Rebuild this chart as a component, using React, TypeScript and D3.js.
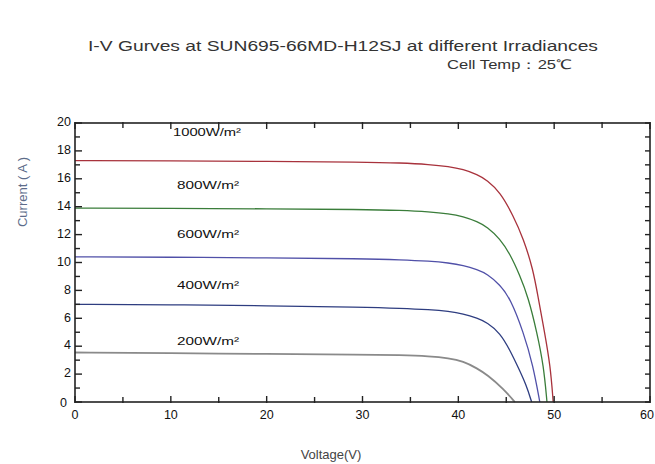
import React from "react";
import * as d3 from "d3";

const title = "I-V Gurves at SUN695-66MD-H12SJ at different Irradiances";
const subtitle = "Cell Temp：25℃";
const xLabel = "Voltage(V)";
const yLabel = "Current ( A )";
const xTicks = [0, 10, 20, 30, 40, 50, 60];
const yTicks = [0, 2, 4, 6, 8, 10, 12, 14, 16, 18, 20];

const seriesNames = ["1000W/m²", "800W/m²", "600W/m²", "400W/m²", "200W/m²"];
const seriesColors = ["#a8323c", "#3a7d3a", "#5050a8", "#2e3d80", "#8a8a8a"];
const labelCurrents = [19.3, 15.5, 12.0, 8.3, 4.3];

const v1000 = [0, 10, 20, 30, 34, 37, 39, 40.5, 42, 43, 44.35, 45.7, 46.8, 47.8, 48.3, 49, 49.6, 49.9];
const i1000 = [17.3, 17.28, 17.25, 17.2, 17.14, 17.03, 16.88, 16.68, 16.3, 15.9, 15.05, 13.4, 11.7, 9.5, 7.6, 5.0, 2.6, 0];

const v800 = [0, 10, 20, 30, 34, 37, 39, 40.5, 42, 43, 44.35, 45.4, 46.4, 47.3, 48.2, 48.9, 49.25];
const i800 = [13.9, 13.88, 13.85, 13.8, 13.74, 13.64, 13.5, 13.3, 12.93, 12.55, 11.7, 10.6, 9.1, 7.5, 5.0, 2.6, 0];

const v600 = [0, 10, 20, 30, 34, 37, 39, 40.5, 42, 43, 44.35, 45.4, 46.8, 47.8, 48.5];
const i600 = [10.4, 10.38, 10.33, 10.27, 10.2, 10.1, 9.97, 9.8, 9.48, 9.18, 8.4, 7.45, 5.0, 2.6, 0];

const v400 = [0, 10, 20, 30, 34, 37, 39, 40.5, 42, 43, 44.35, 45.4, 46.3, 47.1, 47.65];
const i400 = [7.0, 6.97, 6.9, 6.8, 6.72, 6.62, 6.5, 6.33, 6.0, 5.7, 4.95, 3.7, 2.4, 1.2, 0];

const v200 = [0, 10, 20, 30, 34, 37, 39, 40.5, 42, 43, 44.7, 45.9];
const i200 = [3.55, 3.5, 3.45, 3.4, 3.36, 3.28, 3.14, 2.92, 2.4, 1.95, 0.95, 0];

const seriesV = [v1000, v800, v600, v400, v200];
const seriesI = [i1000, i800, i600, i400, i200];

const W = 655;
const H = 464;
const M = { left: 75, right: 650, top: 123, bottom: 402 };

export default function App() {
  const x = d3.scaleLinear().domain([0, 60]).range([M.left, M.right]);
  const y = d3.scaleLinear().domain([0, 20]).range([M.bottom, M.top]);
  const line = d3
    .line<[number, number]>()
    .x((d) => x(d[0]))
    .y((d) => y(d[1]))
    .curve(d3.curveBasis);

  const xMinor = d3.range(0, 61, 5);
  const yMinor = d3.range(0, 21, 1);
  const font = "'Liberation Sans', Arial, sans-serif";

  return (
    <svg
      width={W}
      height={H}
      style={{ position: "absolute", left: 0, top: 0, background: "#fff" }}
      fontFamily={font}
    >
      <rect x={0} y={0} width={W} height={H} fill="#fff" />
      <text x={343} y={51} textAnchor="middle" fontSize={15.5} fill="#333" textLength={510} lengthAdjust="spacingAndGlyphs">
        {title}
      </text>
      <text x={447} y={69} fontSize={12.5} fill="#333" textLength={125} lengthAdjust="spacingAndGlyphs">
        {subtitle}
      </text>

      {seriesV.map((vs, k) => {
        const pts = vs.map((v, j) => [v, seriesI[k][j]] as [number, number]);
        return (
          <path
            key={k}
            d={line(pts) || ""}
            fill="none"
            stroke={seriesColors[k]}
            strokeWidth={k === 4 ? 1.8 : 1.3}
          />
        );
      })}

      {seriesNames.map((n, k) => (
        <text
          key={n}
          x={k === 0 ? 173 : 177}
          y={y(labelCurrents[k])}
          fontSize={11}
          dominantBaseline="middle"
          fill="#111"
          textLength={k === 0 ? 68 : 62}
          lengthAdjust="spacingAndGlyphs"
        >
          {n}
        </text>
      ))}

      <rect
        x={M.left}
        y={M.top}
        width={M.right - M.left}
        height={M.bottom - M.top}
        fill="none"
        stroke="#222"
        strokeWidth={1.6}
      />

      {xMinor.map((t) => {
        const len = t % 10 === 0 ? 6 : 5;
        return (
          <g key={"xt" + t} stroke="#222" strokeWidth={1.4}>
            <line x1={x(t)} x2={x(t)} y1={M.bottom + 1} y2={M.bottom - len} />
            <line x1={x(t)} x2={x(t)} y1={M.top - 1} y2={M.top + len} />
          </g>
        );
      })}
      {yMinor.map((t) => {
        const len = t % 2 === 0 ? 7 : 5;
        return (
          <g key={"yt" + t} stroke="#222" strokeWidth={1.4}>
            <line x1={M.left} x2={M.left + len} y1={y(t)} y2={y(t)} />
            <line x1={M.right} x2={M.right - 5} y1={y(t)} y2={y(t)} />
          </g>
        );
      })}

      {xTicks.map((t) => (
        <text
          key={"xl" + t}
          x={t === 60 ? 647 : x(t)}
          y={M.bottom + 17}
          textAnchor="middle"
          fontSize={12.5}
          fill="#111"
        >
          {t}
        </text>
      ))}
      {yTicks.map((t) => (
        <text
          key={"yl" + t}
          x={t === 0 ? 67 : 71}
          y={y(t) + (t === 0 ? 2 : 0)}
          textAnchor="end"
          dominantBaseline="middle"
          fontSize={12.5}
          fill="#111"
        >
          {t}
        </text>
      ))}

      <text
        transform={`translate(27,${192}) rotate(-90)`}
        textAnchor="middle"
        fontSize={13}
        fill="#5d6c8a"
      >
        {yLabel}
      </text>
      <text x={331} y={459} textAnchor="middle" fontSize={13} fill="#444">
        {xLabel}
      </text>
    </svg>
  );
}
